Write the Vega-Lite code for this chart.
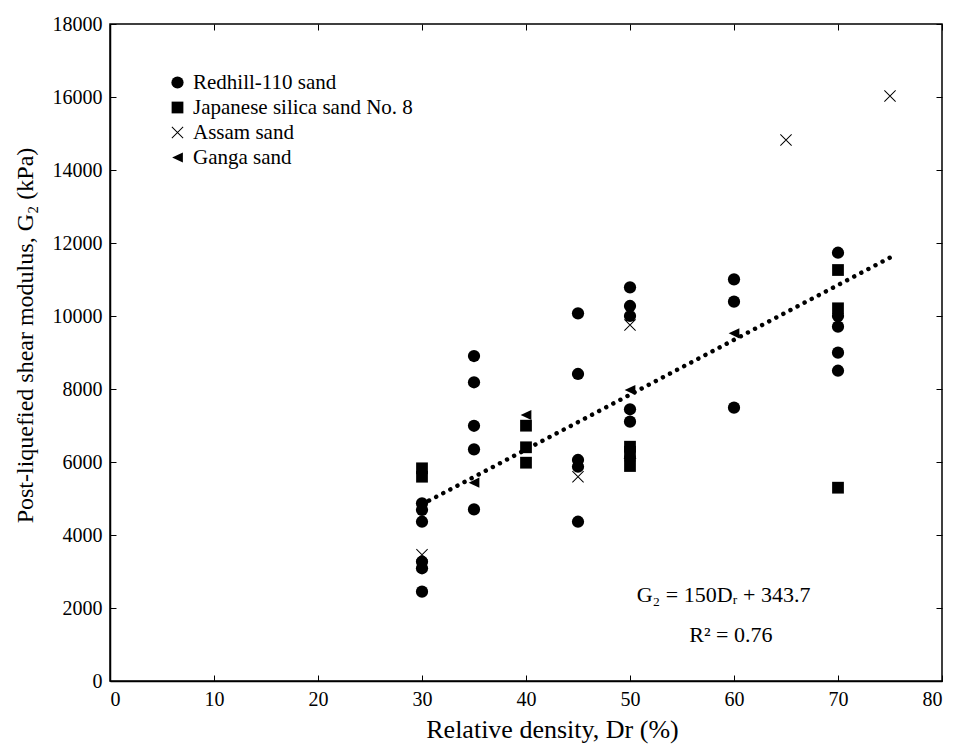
{
  "$schema": "https://vega.github.io/schema/vega-lite/v6.json",
  "width": 832,
  "height": 657,
  "autosize": {"type": "none"},
  "padding": {"left": 110, "top": 24, "right": 14, "bottom": 72},
  "background": "white",
  "config": {
    "view": {"stroke": "black", "strokeWidth": 1.5},
    "font": "Liberation Serif, Times New Roman, serif",
    "axis": {
      "grid": false,
      "labelFont": "Liberation Serif, Times New Roman, serif",
      "labelFontSize": 20,
      "labelColor": "black",
      "titleFont": "Liberation Serif, Times New Roman, serif",
      "titleFontSize": 24,
      "titleFontWeight": "normal",
      "titleColor": "black",
      "domainColor": "black",
      "domainWidth": 1.5,
      "tickColor": "black",
      "tickWidth": 1,
      "tickSize": -6,
      "format": "d"
    },
    "legend": {
      "labelFont": "Liberation Serif, Times New Roman, serif",
      "labelFontSize": 21,
      "labelColor": "black",
      "labelLimit": 0
    }
  },
  "layer": [
    {
      "data": {"values": [{"Dr": 30, "G2": 4840}, {"Dr": 75, "G2": 11600}]},
      "mark": {"type": "line", "color": "black", "strokeWidth": 4.5, "strokeCap": "round", "strokeDash": [0.01, 8]},
      "encoding": {
        "x": {"field": "Dr", "type": "quantitative", "scale": {"domain": [0, 80], "nice": false, "zero": false},
              "axis": {"orient": "top", "labels": false, "title": null, "values": [0,10,20,30,40,50,60,70,80], "domain": false}},
        "y": {"field": "G2", "type": "quantitative", "scale": {"domain": [0, 18000], "nice": false},
              "axis": {"orient": "right", "labels": false, "title": null, "values": [0,2000,4000,6000,8000,10000,12000,14000,16000,18000], "domain": false}}
      }
    },
    {
      "data": {"values": [
        {"Soil": "Redhill-110 sand", "Dr": 30, "G2": 2447},
        {"Soil": "Redhill-110 sand", "Dr": 30, "G2": 3088},
        {"Soil": "Redhill-110 sand", "Dr": 30, "G2": 3268},
        {"Soil": "Redhill-110 sand", "Dr": 30, "G2": 4364},
        {"Soil": "Redhill-110 sand", "Dr": 30, "G2": 4685},
        {"Soil": "Redhill-110 sand", "Dr": 30, "G2": 4868},
        {"Soil": "Redhill-110 sand", "Dr": 35, "G2": 8904},
        {"Soil": "Redhill-110 sand", "Dr": 35, "G2": 8184},
        {"Soil": "Redhill-110 sand", "Dr": 35, "G2": 6992},
        {"Soil": "Redhill-110 sand", "Dr": 35, "G2": 6348},
        {"Soil": "Redhill-110 sand", "Dr": 35, "G2": 4701},
        {"Soil": "Redhill-110 sand", "Dr": 45, "G2": 10074},
        {"Soil": "Redhill-110 sand", "Dr": 45, "G2": 8411},
        {"Soil": "Redhill-110 sand", "Dr": 45, "G2": 6055},
        {"Soil": "Redhill-110 sand", "Dr": 45, "G2": 5871},
        {"Soil": "Redhill-110 sand", "Dr": 45, "G2": 4364},
        {"Soil": "Redhill-110 sand", "Dr": 50, "G2": 10786},
        {"Soil": "Redhill-110 sand", "Dr": 50, "G2": 10274},
        {"Soil": "Redhill-110 sand", "Dr": 50, "G2": 10000},
        {"Soil": "Redhill-110 sand", "Dr": 50, "G2": 7444},
        {"Soil": "Redhill-110 sand", "Dr": 50, "G2": 7104},
        {"Soil": "Redhill-110 sand", "Dr": 50, "G2": 6101},
        {"Soil": "Redhill-110 sand", "Dr": 60, "G2": 11005},
        {"Soil": "Redhill-110 sand", "Dr": 60, "G2": 10392},
        {"Soil": "Redhill-110 sand", "Dr": 60, "G2": 7488},
        {"Soil": "Redhill-110 sand", "Dr": 70, "G2": 11734},
        {"Soil": "Redhill-110 sand", "Dr": 70, "G2": 10000},
        {"Soil": "Redhill-110 sand", "Dr": 70, "G2": 9707},
        {"Soil": "Redhill-110 sand", "Dr": 70, "G2": 8995},
        {"Soil": "Redhill-110 sand", "Dr": 70, "G2": 8501},
        {"Soil": "Japanese silica sand No. 8", "Dr": 30, "G2": 5827},
        {"Soil": "Japanese silica sand No. 8", "Dr": 30, "G2": 5597},
        {"Soil": "Japanese silica sand No. 8", "Dr": 40, "G2": 6995},
        {"Soil": "Japanese silica sand No. 8", "Dr": 40, "G2": 6403},
        {"Soil": "Japanese silica sand No. 8", "Dr": 40, "G2": 5981},
        {"Soil": "Japanese silica sand No. 8", "Dr": 50, "G2": 6419},
        {"Soil": "Japanese silica sand No. 8", "Dr": 50, "G2": 6282},
        {"Soil": "Japanese silica sand No. 8", "Dr": 50, "G2": 5890},
        {"Soil": "Japanese silica sand No. 8", "Dr": 70, "G2": 11260},
        {"Soil": "Japanese silica sand No. 8", "Dr": 70, "G2": 10211},
        {"Soil": "Japanese silica sand No. 8", "Dr": 70, "G2": 5296},
        {"Soil": "Assam sand", "Dr": 30, "G2": 3460},
        {"Soil": "Assam sand", "Dr": 45, "G2": 5597},
        {"Soil": "Assam sand", "Dr": 50, "G2": 9753},
        {"Soil": "Assam sand", "Dr": 65, "G2": 14822},
        {"Soil": "Assam sand", "Dr": 75, "G2": 16027},
        {"Soil": "Ganga sand", "Dr": 35, "G2": 5433},
        {"Soil": "Ganga sand", "Dr": 40, "G2": 7288},
        {"Soil": "Ganga sand", "Dr": 50, "G2": 7973},
        {"Soil": "Ganga sand", "Dr": 60, "G2": 9526}
      ]},
      "mark": {"type": "point", "filled": true, "color": "black", "strokeWidth": 0, "opacity": 1},
      "encoding": {
        "x": {"field": "Dr", "type": "quantitative", "scale": {"domain": [0, 80], "nice": false, "zero": false},
              "axis": {"orient": "bottom", "values": [0,10,20,30,40,50,60,70,80], "title": "Relative density, Dr (%)", "titleFontSize": 26, "labelPadding": 14, "titleX": 442, "titleY": 56, "titleBaseline": "alphabetic"}},
        "y": {"field": "G2", "type": "quantitative", "scale": {"domain": [0, 18000], "nice": false},
              "axis": {"orient": "left", "values": [0,2000,4000,6000,8000,10000,12000,14000,16000,18000], "title": "Post-liquefied shear modulus, G₂ (kPa)", "labelPadding": 14, "titleX": -78, "titleY": 311, "titleBaseline": "alphabetic"}},
        "shape": {
          "field": "Soil", "type": "nominal",
          "scale": {
            "domain": ["Redhill-110 sand", "Japanese silica sand No. 8", "Assam sand", "Ganga sand"],
            "range": ["circle", "square", "M-1.06,-0.94L-0.94,-1.06L1.06,0.94L0.94,1.06ZM0.94,-1.06L1.06,-0.94L-0.94,1.06L-1.06,0.94Z", "M-1,0L1,-0.95L1,0.95Z"]
          },
          "legend": {
            "title": null,
            "orient": "none",
            "legendX": 57,
            "legendY": 48,
            "padding": 0,
            "labelOffset": 5,
            "rowPadding": 3
          }
        },
        "size": {
          "field": "Soil", "type": "nominal",
          "scale": {
            "domain": ["Redhill-110 sand", "Japanese silica sand No. 8", "Assam sand", "Ganga sand"],
            "range": [150, 115, 190, 170]
          },
          "legend": {
            "title": null,
            "orient": "none",
            "legendX": 57,
            "legendY": 48,
            "padding": 0,
            "labelOffset": 5,
            "rowPadding": 3
          }
        }
      }
    },
    {
      "data": {"values": [
        {"label": "G₂ = 150Dᵣ + 343.7", "Dr": 59.0, "G2": 2160},
        {"label": "R² = 0.76", "Dr": 59.7, "G2": 1077}
      ]},
      "mark": {"type": "text", "font": "Liberation Serif, Times New Roman, serif", "fontSize": 22, "color": "black", "align": "center", "baseline": "alphabetic"},
      "encoding": {
        "x": {"field": "Dr", "type": "quantitative", "axis": null},
        "y": {"field": "G2", "type": "quantitative", "axis": null},
        "text": {"field": "label"}
      }
    }
  ],
  "resolve": {"axis": {"x": "independent", "y": "independent"}}
}
